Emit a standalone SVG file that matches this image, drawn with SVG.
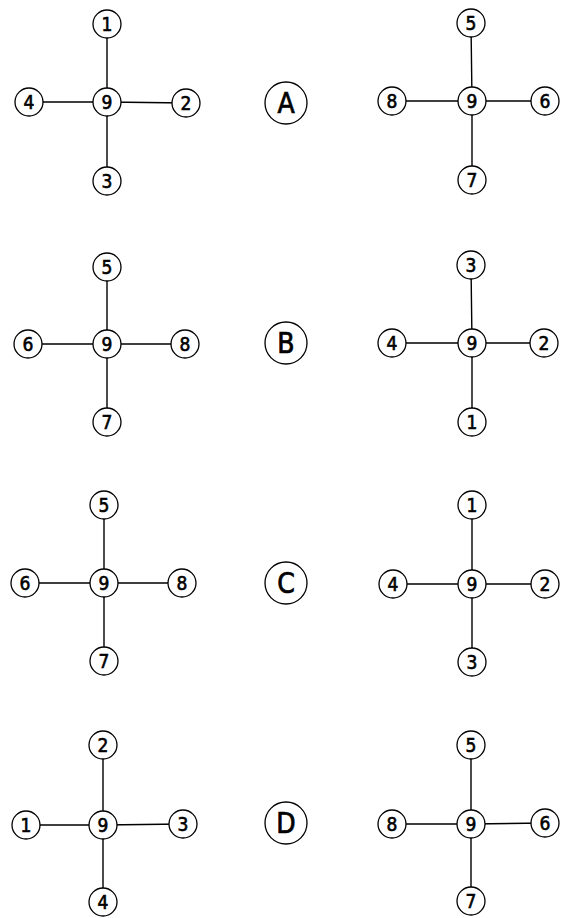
<svg xmlns="http://www.w3.org/2000/svg" width="566" height="918" viewBox="0 0 566 918">
<style>
.bg{fill:#fff}
.e{stroke:#000;stroke-width:1.4;fill:none}
.n circle{fill:#fff;stroke:#000;stroke-width:1.3}
.n text{font-family:"DejaVu Sans Condensed","DejaVu Sans","Liberation Sans",sans-serif;font-stretch:condensed;font-size:19px;fill:#000;stroke:#000;stroke-width:0.6;text-anchor:middle;dominant-baseline:central}
.l circle{fill:#fff;stroke:#000;stroke-width:1.3}
.l text{font-family:"DejaVu Sans Condensed","DejaVu Sans","Liberation Sans",sans-serif;font-stretch:condensed;font-size:28px;fill:#000;stroke:#000;stroke-width:0.7;text-anchor:middle;dominant-baseline:central}
</style>
<rect class="bg" width="566" height="918"/>
<g id="connectors">
<path class="e" d="M107,24V181M29,102H107L186,103"/>
<path class="e" d="M471,23L472,101V180M392,101H545"/>
<path class="e" d="M107,267V422M28,344H185"/>
<path class="e" d="M471,265L472,343V422M392,343H544"/>
<path class="e" d="M104,505V661M25,583H182"/>
<path class="e" d="M472,505V662M393,584H545"/>
<path class="e" d="M103,745V902M26,825H103L183,824"/>
<path class="e" d="M471,745V901M392,824H471L545,823"/>
</g>
<g id="a-left">
<g id="a-l-9" class="n"><circle cx="107" cy="102" r="14"/><text x="107" y="102">9</text></g>
<g id="a-l-1" class="n"><circle cx="107" cy="24" r="14"/><text x="107" y="24">1</text></g>
<g id="a-l-4" class="n"><circle cx="29" cy="102" r="14"/><text x="29" y="102">4</text></g>
<g id="a-l-2" class="n"><circle cx="186" cy="103" r="14"/><text x="186" y="103">2</text></g>
<g id="a-l-3" class="n"><circle cx="107" cy="181" r="14"/><text x="107" y="181">3</text></g>
</g>
<g id="label-a" class="l"><circle cx="286" cy="103" r="21"/><text x="286" y="103">A</text></g>
<g id="a-right">
<g id="a-r-9" class="n"><circle cx="472" cy="101" r="14"/><text x="472" y="101">9</text></g>
<g id="a-r-5" class="n"><circle cx="471" cy="23" r="14"/><text x="471" y="23">5</text></g>
<g id="a-r-8" class="n"><circle cx="392" cy="101" r="14"/><text x="392" y="101">8</text></g>
<g id="a-r-6" class="n"><circle cx="545" cy="101" r="14"/><text x="545" y="101">6</text></g>
<g id="a-r-7" class="n"><circle cx="472" cy="180" r="14"/><text x="472" y="180">7</text></g>
</g>
<g id="b-left">
<g id="b-l-9" class="n"><circle cx="107" cy="344" r="14"/><text x="107" y="344">9</text></g>
<g id="b-l-5" class="n"><circle cx="107" cy="267" r="14"/><text x="107" y="267">5</text></g>
<g id="b-l-6" class="n"><circle cx="28" cy="344" r="14"/><text x="28" y="344">6</text></g>
<g id="b-l-8" class="n"><circle cx="185" cy="344" r="14"/><text x="185" y="344">8</text></g>
<g id="b-l-7" class="n"><circle cx="107" cy="422" r="14"/><text x="107" y="422">7</text></g>
</g>
<g id="label-b" class="l"><circle cx="286" cy="343" r="21"/><text x="286" y="343">B</text></g>
<g id="b-right">
<g id="b-r-9" class="n"><circle cx="472" cy="343" r="14"/><text x="472" y="343">9</text></g>
<g id="b-r-3" class="n"><circle cx="471" cy="265" r="14"/><text x="471" y="265">3</text></g>
<g id="b-r-4" class="n"><circle cx="392" cy="343" r="14"/><text x="392" y="343">4</text></g>
<g id="b-r-2" class="n"><circle cx="544" cy="343" r="14"/><text x="544" y="343">2</text></g>
<g id="b-r-1" class="n"><circle cx="472" cy="422" r="14"/><text x="472" y="422">1</text></g>
</g>
<g id="c-left">
<g id="c-l-9" class="n"><circle cx="104" cy="583" r="14"/><text x="104" y="583">9</text></g>
<g id="c-l-5" class="n"><circle cx="104" cy="505" r="14"/><text x="104" y="505">5</text></g>
<g id="c-l-6" class="n"><circle cx="25" cy="583" r="14"/><text x="25" y="583">6</text></g>
<g id="c-l-8" class="n"><circle cx="182" cy="583" r="14"/><text x="182" y="583">8</text></g>
<g id="c-l-7" class="n"><circle cx="104" cy="661" r="14"/><text x="104" y="661">7</text></g>
</g>
<g id="label-c" class="l"><circle cx="286" cy="583" r="21"/><text x="286" y="583">C</text></g>
<g id="c-right">
<g id="c-r-9" class="n"><circle cx="472" cy="584" r="14"/><text x="472" y="584">9</text></g>
<g id="c-r-1" class="n"><circle cx="472" cy="505" r="14"/><text x="472" y="505">1</text></g>
<g id="c-r-4" class="n"><circle cx="393" cy="584" r="14"/><text x="393" y="584">4</text></g>
<g id="c-r-2" class="n"><circle cx="545" cy="584" r="14"/><text x="545" y="584">2</text></g>
<g id="c-r-3" class="n"><circle cx="472" cy="662" r="14"/><text x="472" y="662">3</text></g>
</g>
<g id="d-left">
<g id="d-l-9" class="n"><circle cx="103" cy="825" r="14"/><text x="103" y="825">9</text></g>
<g id="d-l-2" class="n"><circle cx="103" cy="745" r="14"/><text x="103" y="745">2</text></g>
<g id="d-l-1" class="n"><circle cx="26" cy="825" r="14"/><text x="26" y="825">1</text></g>
<g id="d-l-3" class="n"><circle cx="183" cy="824" r="14"/><text x="183" y="824">3</text></g>
<g id="d-l-4" class="n"><circle cx="103" cy="902" r="14"/><text x="103" y="902">4</text></g>
</g>
<g id="label-d" class="l"><circle cx="286" cy="823" r="21"/><text x="286" y="823">D</text></g>
<g id="d-right">
<g id="d-r-9" class="n"><circle cx="471" cy="824" r="14"/><text x="471" y="824">9</text></g>
<g id="d-r-5" class="n"><circle cx="471" cy="745" r="14"/><text x="471" y="745">5</text></g>
<g id="d-r-8" class="n"><circle cx="392" cy="824" r="14"/><text x="392" y="824">8</text></g>
<g id="d-r-6" class="n"><circle cx="545" cy="823" r="14"/><text x="545" y="823">6</text></g>
<g id="d-r-7" class="n"><circle cx="471" cy="901" r="14"/><text x="471" y="901">7</text></g>
</g>
</svg>
